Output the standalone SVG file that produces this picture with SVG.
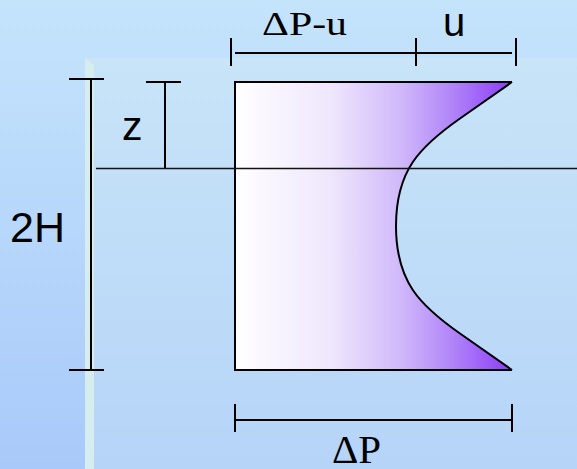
<svg xmlns="http://www.w3.org/2000/svg" width="577" height="469" viewBox="0 0 577 469">
<defs>
<linearGradient id="bg" x1="0" y1="0" x2="0" y2="1">
<stop offset="0" stop-color="#c4e4fc"/>
<stop offset="1" stop-color="#a9c9fa"/>
</linearGradient>
<linearGradient id="panel" x1="0" y1="0" x2="0" y2="1">
<stop offset="0" stop-color="#c8e4f8"/>
<stop offset="1" stop-color="#b6d4f8"/>
</linearGradient>
<linearGradient id="fillg" gradientUnits="userSpaceOnUse" x1="235" y1="0" x2="512" y2="0">
<stop offset="0" stop-color="#ffffff"/>
<stop offset="0.35" stop-color="#eee6fd"/>
<stop offset="0.6" stop-color="#d0b8fa"/>
<stop offset="0.8" stop-color="#ae80f8"/>
<stop offset="1" stop-color="#8c3af8"/>
</linearGradient>
</defs>
<style>
.ln{stroke:#000;stroke-width:2;fill:none}
.thin{stroke:#111;stroke-width:1.6;fill:none}
.sans{font-family:"Liberation Sans",Arial,sans-serif;fill:#000}
.serif{font-family:"Liberation Serif","Times New Roman",serif;fill:#000}
</style>
<g id="background">
<rect x="0" y="0" width="577" height="469" fill="url(#bg)"/>
<rect x="85" y="58" width="492" height="411" fill="url(#panel)"/>
<polygon points="85,58 577,58 577,65 94,65" fill="#cae5f7"/>
<polygon points="85,58 94,65 94,469 85,469" fill="#d6ecee"/>
</g>
<g id="profile">
<path d="M235,82 L512,82 L460,118.5 C420,146.6 396,170 396,226 C396,282 420,305.4 460,333.5 L512,370 L235,370 Z" fill="url(#fillg)"/>
<path class="ln" d="M512,82 L235,82 L235,370 L512,370"/>
<path class="ln" d="M512,82 L460,118.5 C420,146.6 396,170 396,226 C396,282 420,305.4 460,333.5 L512,370"/>
</g>
<g id="connectors">
<line class="thin" x1="96" y1="168.5" x2="577" y2="168.5"/>
<g id="dim-2H">
<line class="ln" x1="91" y1="79" x2="91" y2="370"/>
<line class="ln" x1="69" y1="79" x2="104" y2="79"/>
<line class="ln" x1="69" y1="370" x2="104" y2="370"/>
</g>
<g id="dim-z">
<line class="ln" x1="165" y1="82" x2="165" y2="168"/>
<line class="ln" x1="146" y1="82" x2="181" y2="82"/>
</g>
<g id="dim-top">
<line class="ln" x1="235" y1="53" x2="512" y2="53"/>
<line class="ln" x1="231" y1="38" x2="231" y2="66"/>
<line class="ln" x1="416" y1="38" x2="416" y2="66"/>
<line class="ln" x1="516" y1="38" x2="516" y2="66"/>
</g>
<g id="dim-bottom">
<line class="ln" x1="235" y1="420" x2="512" y2="420"/>
<line class="ln" x1="235" y1="404" x2="235" y2="432"/>
<line class="ln" x1="512" y1="404" x2="512" y2="432"/>
</g>
</g>
<g id="labels">
<text class="sans" x="10" y="242" font-size="43">2H</text>
<text class="sans" x="122" y="140" font-size="41">z</text>
<text class="serif" x="262" y="35" font-size="33" textLength="85" lengthAdjust="spacingAndGlyphs">ΔP-u</text>
<text class="sans" x="443" y="36" font-size="40">u</text>
<text class="serif" x="332" y="463" font-size="41">ΔP</text>
</g>
</svg>
